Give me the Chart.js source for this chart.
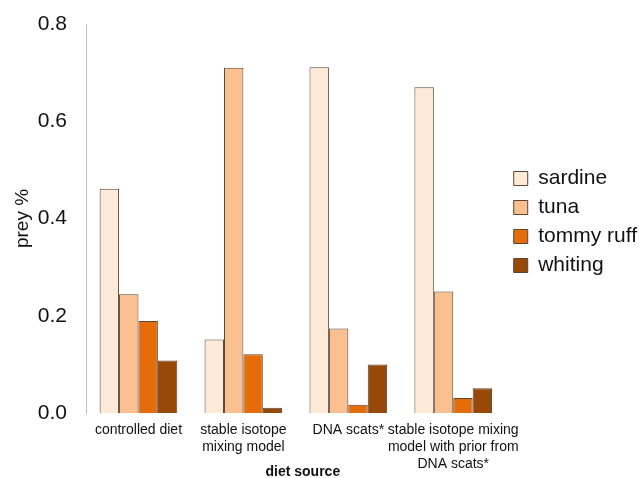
<!DOCTYPE html>
<html>
  <head>
    <title>Diet source chart</title>
    <script src="https://cdn.jsdelivr.net/npm/chart.js"></script>
    <style>
      body { margin: 0; background: #fff; }
      #wrap { width: 639px; height: 478px; }
    </style>
  </head>
  <body>
    <div id="wrap"><canvas id="myChart"></canvas></div>

    <script>
      const categories = [
        ["controlled diet"],
        ["stable isotope", "mixing model"],
        ["DNA scats*"],
        ["stable isotope mixing", "model with prior from", "DNA scats*"],
      ];
      const sardine = [0.461, 0.151, 0.711, 0.670];
      const tuna = [0.244, 0.710, 0.174, 0.250];
      const tommyRuff = [0.189, 0.121, 0.017, 0.031];
      const whiting = [0.108, 0.011, 0.100, 0.051];
      const yTicks = [0, 0.2, 0.4, 0.6, 0.8];

      const font = "'Liberation Sans', Arial, sans-serif";

      // x axis title sits beside the third label line, so draw it by hand
      const xTitle = {
        id: "xTitle",
        afterDraw(chart) {
          const ctx = chart.ctx;
          const area = chart.chartArea;
          ctx.save();
          ctx.font = "bold 14px " + font;
          ctx.fillStyle = "#111";
          ctx.textAlign = "center";
          ctx.textBaseline = "middle";
          ctx.fillText("diet source", (area.left + area.right) / 2 + 7, area.bottom + 59);
          ctx.restore();
        },
      };

      const border = "#5a4638";
      const ctx = document.getElementById("myChart").getContext("2d");
      const myChart = new Chart(ctx, {
        type: "bar",
        data: {
          labels: categories,
          datasets: [
            { label: "sardine", data: sardine, backgroundColor: "#fdead9" },
            { label: "tuna", data: tuna, backgroundColor: "#fac090" },
            { label: "tommy ruff", data: tommyRuff, backgroundColor: "#e46c0a" },
            { label: "whiting", data: whiting, backgroundColor: "#984807" },
          ].map((d) => ({ ...d, borderColor: border, borderWidth: 1, categoryPercentage: 0.74, barPercentage: 1 })),
        },
        plugins: [xTitle],
        options: {
          responsive: true,
          maintainAspectRatio: false,
          animation: false,
          layout: { padding: { top: 24, left: 0, right: -8, bottom: 0 } },
          plugins: {
            legend: {
              position: "right",
              align: "start",
              title: { display: true, text: " ", font: { size: 10 }, padding: { top: 124, bottom: 0 } },
              labels: {
                boxWidth: 14,
                boxHeight: 14,
                padding: 8,
                color: "#111",
                font: { size: 21, family: font },
              },
            },
            tooltip: { enabled: false },
          },
          scales: {
            x: {
              grid: { display: false, drawTicks: false },
              border: { display: false },
              afterFit: (axis) => { axis.height = 65; },
              ticks: {
                color: "#111",
                padding: 9,
                maxRotation: 0,
                autoSkip: false,
                font: { size: 14, lineHeight: 1.2, family: font },
              },
            },
            y: {
              min: 0,
              max: 0.8,
              // grid hidden; tickLength only spaces the labels from the axis
              grid: { display: false, drawTicks: true, tickLength: 19 },
              border: { display: true, color: "#c0c0c0", width: 1 },
              afterFit: (axis) => { axis.width = 86; },
              afterBuildTicks: (axis) => {
                axis.ticks = yTicks.map((v) => ({ value: v }));
              },
              ticks: {
                color: "#111",
                padding: 0,
                font: { size: 21, family: font },
                callback: (v) => Number(v).toFixed(1),
              },
              title: {
                display: true,
                text: "prey %",
                color: "#111",
                padding: { top: 11, bottom: 0 },
                font: { size: 19, family: font },
              },
            },
          },
        },
      });
    </script>
  </body>
</html>
